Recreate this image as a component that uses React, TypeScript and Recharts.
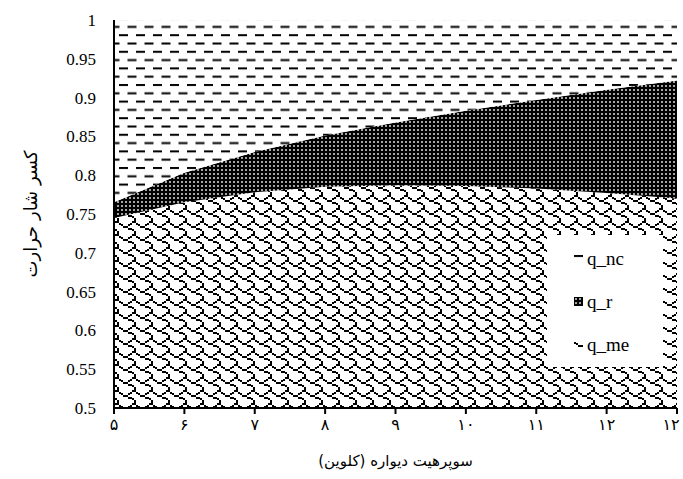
import { AreaChart, Area, XAxis, YAxis } from "recharts";

// x positions (Persian labels, the source repeats ۱۲ at the end)
const xLabels = ["۵", "۶", "۷", "۸", "۹", "۱۰", "۱۱", "۱۲", "۱۲"];

// stacked fractions, bottom to top
const qMe = [0.745, 0.765, 0.778, 0.785, 0.787, 0.786, 0.783, 0.777, 0.77];
const qR = [0.02, 0.038, 0.052, 0.066, 0.081, 0.097, 0.114, 0.133, 0.152];
const qNc = [0.235, 0.197, 0.17, 0.149, 0.132, 0.117, 0.103, 0.09, 0.078];

const yTicks = [0.5, 0.55, 0.6, 0.65, 0.7, 0.75, 0.8, 0.85, 0.9, 0.95, 1];

const data = xLabels.map((_, i) => ({ i, q_me: qMe[i], q_r: qR[i], q_nc: qNc[i] }));

// GDI "shingle" hatch, 8x8 bits
const shingleBits = [0x03, 0x84, 0x48, 0x30, 0x0c, 0x02, 0x01, 0x01];
const shW = 17;
const shH = 13;

const serif = "'Liberation Serif', 'DejaVu Sans', serif";
const persian = "'DejaVu Sans', sans-serif";

const legendItems = [
  { key: "q_nc", fill: "url(#patNc)" },
  { key: "q_r", fill: "url(#patR)" },
  { key: "q_me", fill: "url(#patMe)" },
];

// last label pulled in a little so it stays on the page
const XTick = (props: any) => {
  const { x, y, payload, index } = props;
  const dx = index === xLabels.length - 1 ? -6 : 0;
  return (
    <text x={x + dx} y={y + 14} textAnchor="middle" fontFamily={persian} fontSize={16} fill="#000">
      {xLabels[payload.value]}
    </text>
  );
};

const YTitle = (props: any) => {
  const { viewBox } = props;
  const cx = 30;
  const cy = viewBox.y + viewBox.height / 2;
  return (
    <text x={cx} y={cy} transform={`rotate(-90, ${cx}, ${cy})`} textAnchor="middle" dominantBaseline="central" fontFamily={persian} fontSize={18} fill="#000">
      کسر شار حرارت
    </text>
  );
};

export default function App() {
  const px = shW / 8;
  const py = shH / 8;
  const shingleRects: JSX.Element[] = [];
  shingleBits.forEach((b, r) => {
    for (let c = 0; c < 8; c++) {
      if (b & (0x80 >> c)) {
        shingleRects.push(<rect key={`${r}-${c}`} x={c * px} y={r * py} width={px + 0.2} height={py + 0.4} fill="#000" />);
      }
    }
  });

  return (
    <div style={{ position: "absolute", left: 0, top: 0, width: 683, height: 479, background: "#fff" }}>
      <AreaChart width={683} height={479} data={data} margin={{ top: 20, right: 6, bottom: 41, left: 40 }}>
        <defs>
          <pattern id="patNc" patternUnits="userSpaceOnUse" width={17} height={16.6}>
            <rect width={17} height={16.6} fill="#fff" />
            <rect x={0} y={1} width={9} height={2} fill="#000" />
            <rect x={8.5} y={9.3} width={9} height={2} fill="#000" />
            <rect x={-8.5} y={9.3} width={9} height={2} fill="#000" />
          </pattern>
          <pattern id="patR" patternUnits="userSpaceOnUse" width={4} height={4}>
            <rect width={4} height={4} fill="#000" />
            <rect x={1.2} y={1.2} width={1.6} height={1.6} fill="#fff" />
          </pattern>
          <pattern id="patMe" patternUnits="userSpaceOnUse" width={shW} height={shH} shapeRendering="crispEdges">
            <rect width={shW} height={shH} fill="#fff" />
            {shingleRects}
          </pattern>
        </defs>
        <XAxis
          dataKey="i"
          type="category"
          height={30}
          tick={<XTick />}
          tickSize={6}
          tickLine={{ stroke: "#000", strokeWidth: 2 }}
          axisLine={{ stroke: "#000", strokeWidth: 2 }}
          interval={0}
          label={{ value: "سوپرهیت دیواره (کلوین)", position: "insideBottom", offset: -28, fontFamily: persian, fontSize: 15, fill: "#000" }}
        />
        <YAxis
          type="number"
          domain={[0.5, 1]}
          allowDataOverflow
          ticks={yTicks}
          width={74}
          tickLine={false}
          axisLine={{ stroke: "#000", strokeWidth: 2 }}
          tickMargin={12}
          tick={{ fontFamily: serif, fontSize: 17, fill: "#000" }}
          label={<YTitle />}
        />
        <Area dataKey="q_me" stackId="1" type="linear" stroke="none" fill="url(#patMe)" fillOpacity={1} isAnimationActive={false} />
        <Area dataKey="q_r" stackId="1" type="linear" stroke="none" fill="url(#patR)" fillOpacity={1} isAnimationActive={false} />
        <Area dataKey="q_nc" stackId="1" type="linear" stroke="none" fill="url(#patNc)" fillOpacity={1} isAnimationActive={false} />
      </AreaChart>
      {/* legend box sits inside the plot, over the q_me area */}
      <div style={{ position: "absolute", left: 547, top: 235, width: 116, height: 132, background: "#fff", paddingTop: 2, boxSizing: "border-box" }}>
        {legendItems.map((it) => (
          <div key={it.key} style={{ display: "flex", alignItems: "center", height: 43, paddingLeft: 27 }}>
            <svg width={9} height={9} style={{ marginRight: 4 }}>
              <rect width={9} height={9} fill={it.fill} />
            </svg>
            <span style={{ fontFamily: serif, fontSize: 19, color: "#000" }}>{it.key}</span>
          </div>
        ))}
      </div>
    </div>
  );
}
